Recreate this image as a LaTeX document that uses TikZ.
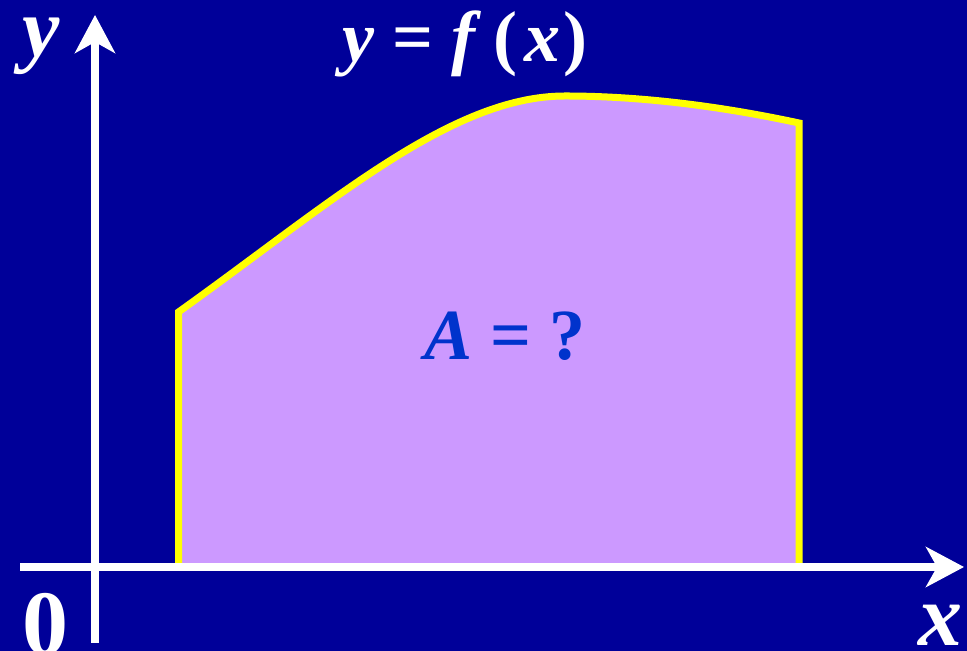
\documentclass[tikz,border=0pt]{standalone}
\usepackage{fontspec}
\setmainfont{Liberation Serif}
\usetikzlibrary{arrows.meta}
\definecolor{fondo}{HTML}{000099}
\definecolor{lila}{HTML}{CC99FF}
\definecolor{amarillo}{HTML}{FFFF00}
\definecolor{azul}{HTML}{0033CC}

\begin{document}
\begin{tikzpicture}[
x=0.5pt, y=0.5pt,
eje/.style ={white, line width=4pt, -{Stealth[length=19pt, width=20pt, inset=5.5pt]}},
area/.style ={fill=lila, draw=amarillo, line width=3.5pt, line join=miter},
etiq/.style ={white, inner sep=0pt, anchor=base, font=\fontsize{36}{40}\selectfont\bfseries},
etiq-eje/.style ={etiq, font=\fontsize{44}{48}\selectfont\bfseries\itshape}
]

% fondo
\fill[fondo] (0,0) rectangle (967,651);
\useasboundingbox (0,0) rectangle (967,651);

% region bajo la curva
\coordinate (a-ini) at (178.5,84);
\coordinate (a-izq) at (178.5,339);
\coordinate (a-max) at (565,555);
\coordinate (a-der) at (799,528);
\coordinate (a-fin) at (799,84);
\draw[area] (a-ini) -- (a-izq)
	.. controls (328.5,446) and (450,555) .. (a-max)
	.. controls (640,555) and (720,545) .. (a-der)
	-- (a-fin);

% ejes
\coordinate (x-ini) at (20,84);
\coordinate (x-fin) at (964,84);
\coordinate (y-ini) at (95,8);
\coordinate (y-fin) at (95,636);
\draw[eje] (x-ini) -- (x-fin);
\draw[eje] (y-ini) -- (y-fin);

% textos
\node[etiq-eje, font=\fontsize{42}{46}\selectfont\bfseries\itshape] (label-y) at (41,594) {y};
\node[etiq-eje] (label-x) at (940.5,5) {x};
\node[etiq-eje, font=\fontsize{46}{50}\selectfont\bfseries] (label-0) at (45.5,-4) {0};
\node[etiq] (label-f) at (465,589) {\textit{y} = \textit{f}\kern6pt(\kern3.5pt\textit{x}\kern1.5pt)};
\node[etiq, text=azul] (label-A) at (505,291) {\textit{A} = ?};
\end{tikzpicture}
\end{document}
